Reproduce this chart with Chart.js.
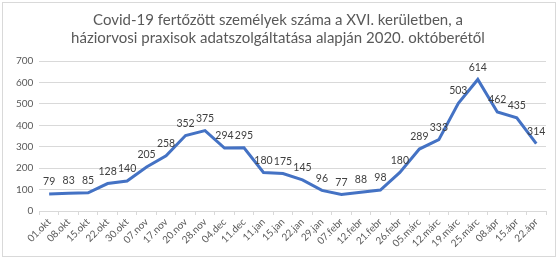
<!DOCTYPE html>
<html lang="hu">
<head>
<meta charset="UTF-8">
<title>Covid-19 XVI. kerület</title>
<script src="https://cdn.jsdelivr.net/npm/chart.js"></script>
<style>
    html, body { margin: 0; padding: 0; background: #fff; }
    .container {
        position: absolute;
        left: 2px; top: 2px;
        width: 554px; height: 255px;
        border: 1px solid #d9d9d9;
        box-sizing: border-box;
    }
</style>
</head>
<body>
<div class="container">
    <canvas id="grafikon"></canvas>
</div>
<script>
    const datumok = ['01.okt', '08.okt', '15.okt', '22.okt', '30.okt', '07.nov', '17.nov', '20.nov', '28.nov',
        '04.dec', '11.dec', '11.jan', '15.jan', '22.jan', '29.jan', '07.febr', '12.febr', '21.febr', '26.febr',
        '05.márc', '12.márc', '19.márc', '25.márc', '08.ápr', '15.ápr', '22.ápr'];
    const esetek = [79, 83, 85, 128, 140, 205, 258, 352, 375, 294, 295, 180, 175, 145, 96, 77, 88, 98, 180,
        289, 333, 503, 614, 462, 435, 314];
    const cimSorok = ['Covid-19 fertőzött személyek száma a XVI. kerületben, a',
        'háziorvosi praxisok adatszolgáltatása alapján 2020. októberétől'];

    const betu = 'Lato, "Open Sans", sans-serif';

    // adatcimkek a pontok folott
    const cimkek = {
        id: 'cimkek',
        afterDatasetsDraw(chart) {
            const ctx = chart.ctx;
            const meta = chart.getDatasetMeta(0);
            ctx.save();
            ctx.font = '10.5px ' + betu;
            ctx.fillStyle = '#404040';
            ctx.textAlign = 'center';
            ctx.textBaseline = 'bottom';
            meta.data.forEach((p, i) => {
                ctx.fillText(chart.data.datasets[0].data[i], p.x, p.y - 7);
            });
            ctx.restore();
        }
    };

    new Chart(document.getElementById('grafikon'), {
        type: 'line',
        data: {
            labels: datumok,
            datasets: [{
                data: esetek,
                borderColor: '#4472C4',
                borderWidth: 3,
                pointRadius: 0,
                tension: 0
            }]
        },
        options: {
            responsive: true,
            maintainAspectRatio: false,
            animation: false,
            layout: { padding: { left: 7, right: 9, top: 0, bottom: 0 } },
            plugins: {
                legend: { display: false },
                tooltip: { enabled: false },
                title: {
                    display: true,
                    text: cimSorok,
                    color: '#595959',
                    font: { family: betu, size: 15, weight: 'normal' },
                    padding: { top: 8, bottom: 14 },
                    lineHeight: 1.5
                }
            },
            scales: {
                x: {
                    offset: true,
                    grid: { display: true, drawOnChartArea: false, offset: true, color: '#d9d9d9', tickLength: 4 },
                    border: { color: '#d9d9d9' },
                    ticks: {
                        color: '#595959',
                        font: { family: betu, size: 10 },
                        maxRotation: 45, minRotation: 45,
                        autoSkip: false,
                        padding: 1
                    },
                    afterFit(scale) { scale.height = 45; }
                },
                y: {
                    min: 0, max: 700,
                    ticks: {
                        stepSize: 100,
                        color: '#595959',
                        font: { family: betu, size: 10 },
                        padding: 6
                    },
                    grid: { color: '#d9d9d9', drawTicks: false },
                    border: { display: false }
                }
            }
        },
        plugins: [cimkek]
    });
</script>
</body>
</html>
